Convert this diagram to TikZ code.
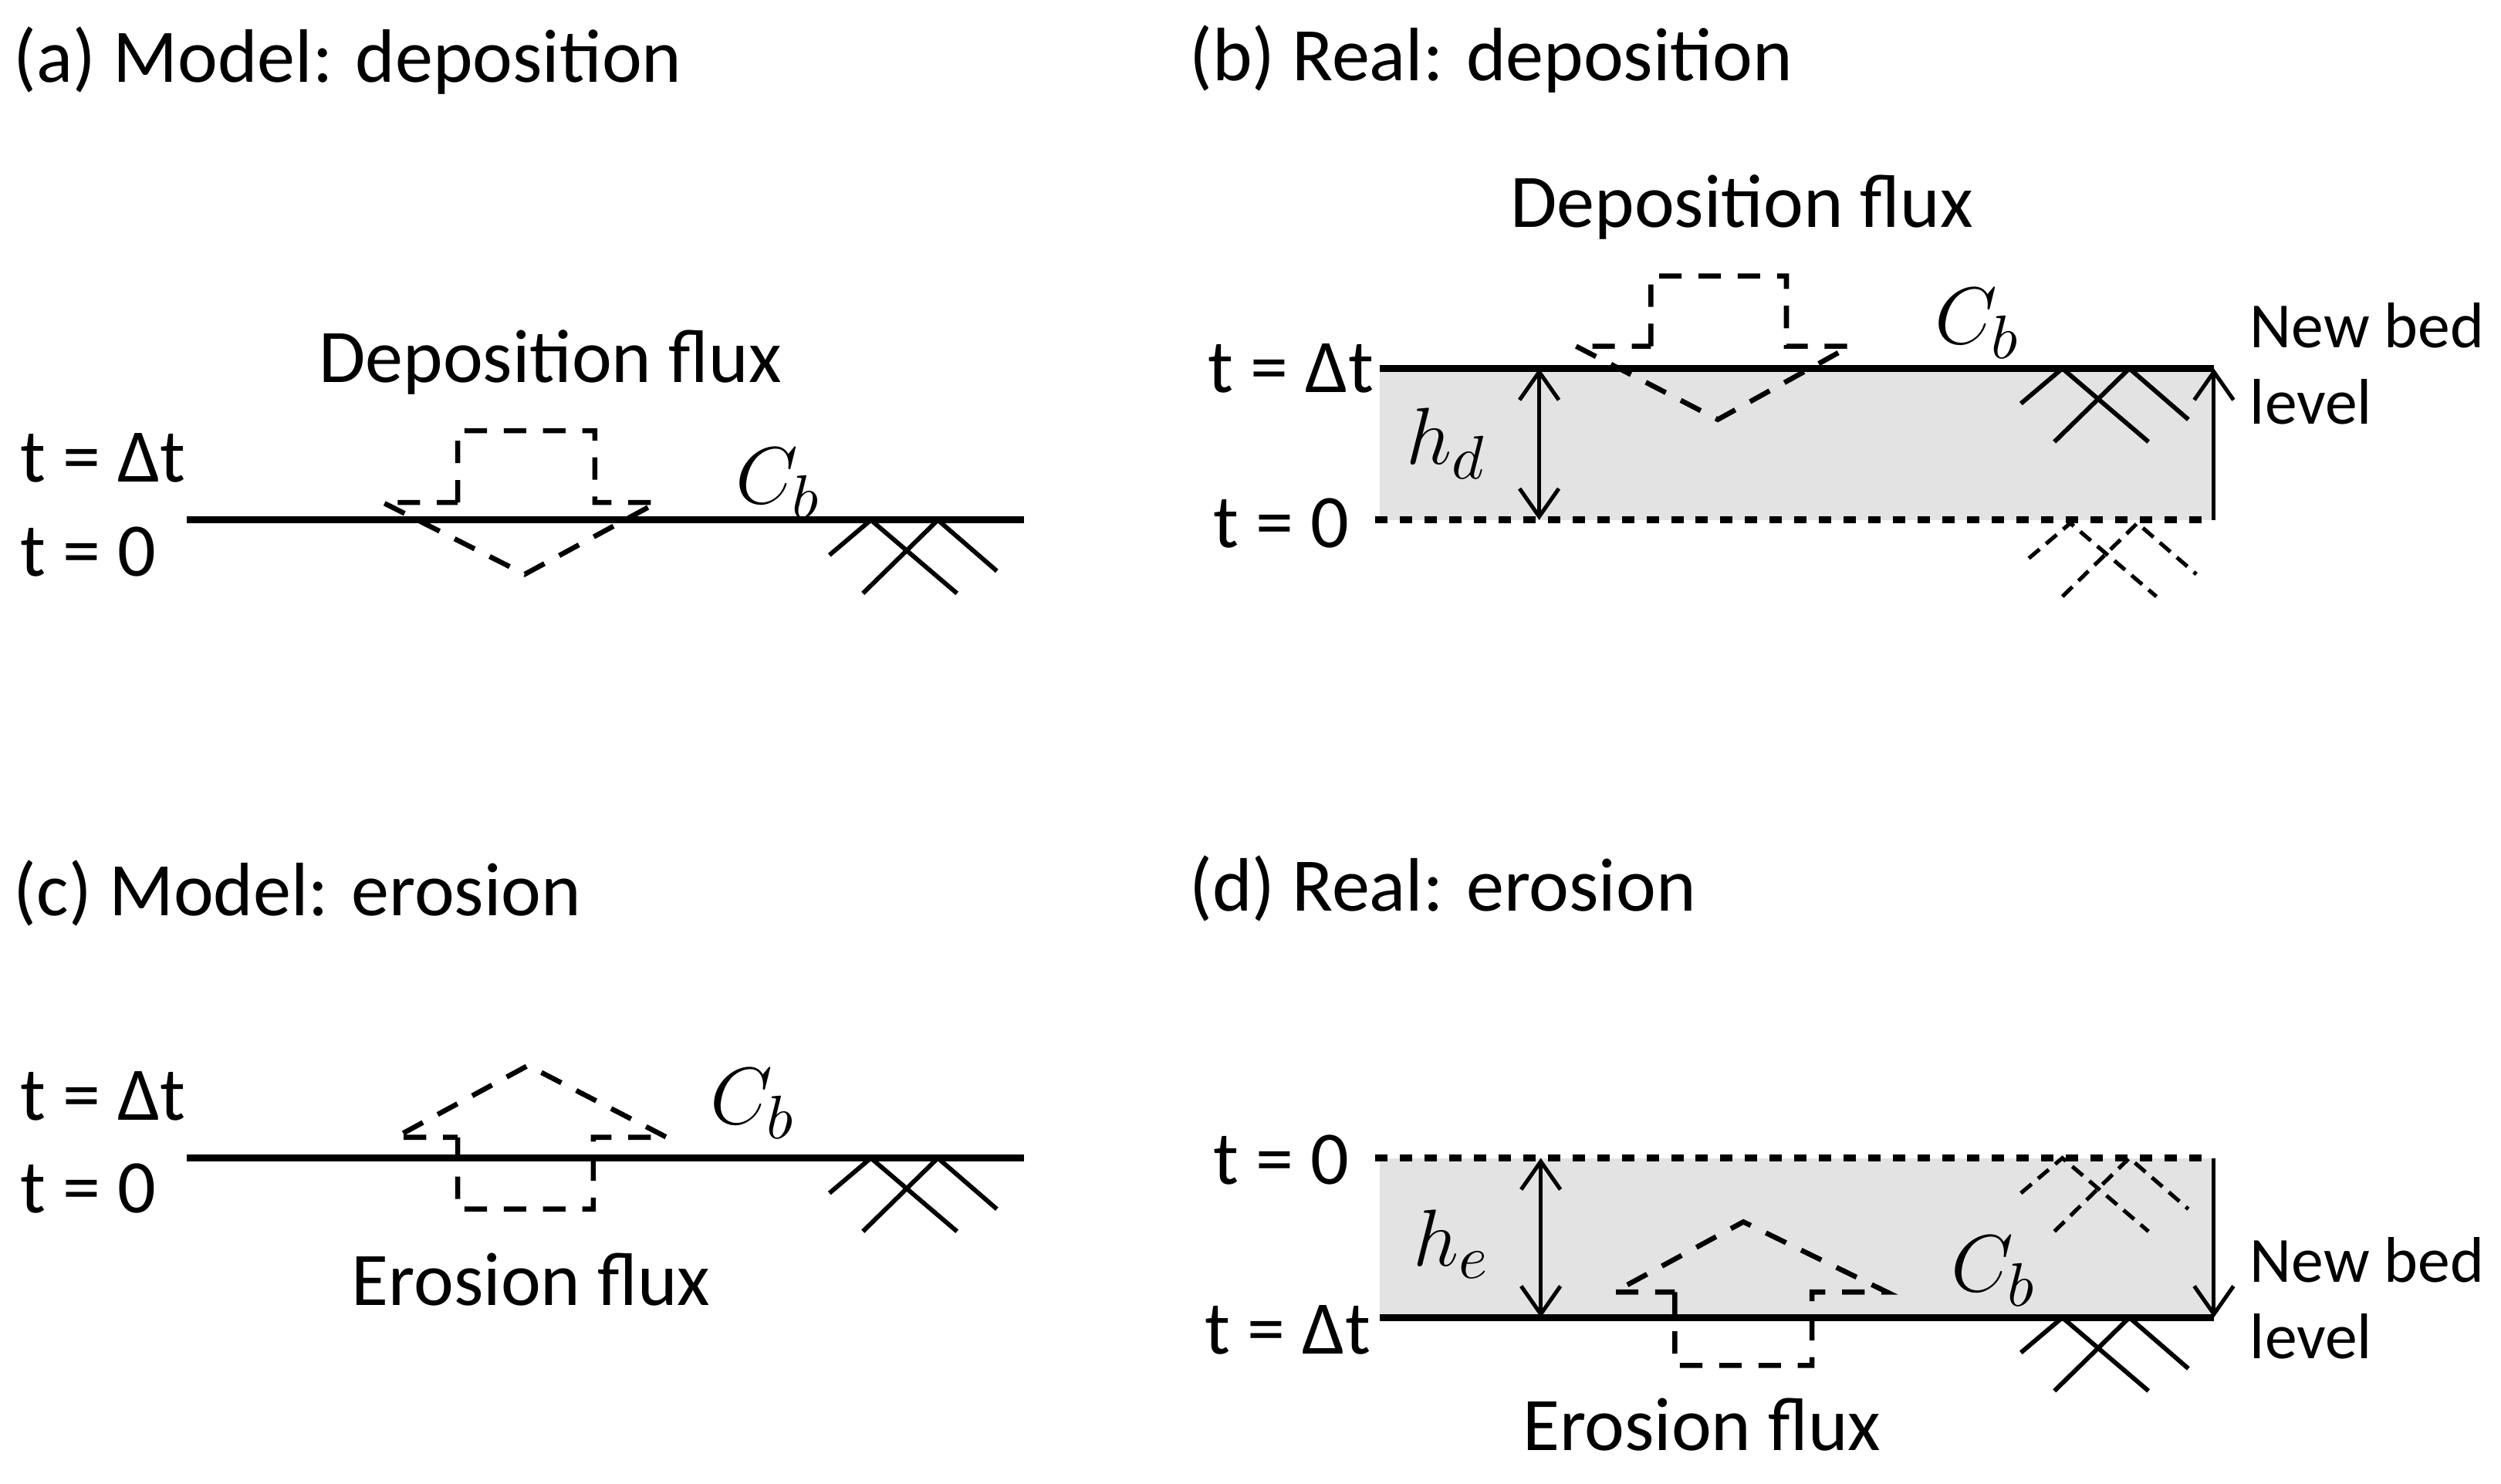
\documentclass[tikz,border=0pt]{standalone}
\usepackage{fontspec}
\setmainfont{Carlito}
\usetikzlibrary{arrows.meta}
\begin{document}
\begin{tikzpicture}[x=0.01cm,y=-0.01cm,
  txt/.style={font=\fontsize{13.5}{15}\selectfont, inner sep=0pt},
  small/.style={font=\fontsize{11.5}{13.6}\selectfont, inner sep=0pt, align=left},
  cb/.style={font=\fontsize{15}{17}\selectfont, inner sep=0pt},
  bed/.style={line width=1.2pt},
  flux/.style={dashed, line width=0.9pt, dash pattern=on 4pt off 3pt},
  va/.style={line width=0.7pt, {Straight Barb[length=5pt,width=7pt]}-{Straight Barb[length=5pt,width=7pt]}},
  sa/.style={line width=0.7pt, -{Straight Barb[length=5pt,width=7pt]}},
  hatch/.pic={\draw (-26,22)--(0,0)--(54,46) (-5,46)--(42,0)--(79,32);}]
\useasboundingbox (0,0) rectangle (1568,930);
% (a)
\node[txt,anchor=west] (ta) at (8,38) {(a) Model: deposition};
\coordinate (a1) at (117,326); \coordinate (a2) at (642,326);
\draw[bed] (a1)--(a2);
\node[txt,anchor=west] (adt) at (12,287) {t = Δt};
\node[txt,anchor=west] (a0) at (12,346) {t = 0};
\node[txt] (afl) at (345,227) {Deposition flux};
\node[cb] (acb) at (488,303) {$C_b$};
\draw[flux] (287,315)--(287,270)--(373,270)--(373,315)--(412,315)--(329,360)--(240,315)--cycle;
\pic[line width=0.8pt] at (546,326) {hatch};
% (c)
\node[txt,anchor=west] (tc) at (8,560) {(c) Model: erosion};
\coordinate (c1) at (117,726); \coordinate (c2) at (642,726);
\draw[bed] (c1)--(c2);
\node[txt,anchor=west] (cdt) at (12,687) {t = Δt};
\node[txt,anchor=west] (c0) at (12,745) {t = 0};
\node[txt] (cfl) at (333,802) {Erosion flux};
\node[cb] (ccb) at (472,692) {$C_b$};
\draw[flux] (287,713)--(287,758)--(372,758)--(372,713)--(418,713)--(331,668)--(248,713)--cycle;
\pic[line width=0.8pt] at (546,726) {hatch};
% (b)
\node[txt,anchor=west] (tb) at (745,37) {(b) Real: deposition};
\fill[gray!22] (865,231) rectangle (1388,326);
\coordinate (b1) at (865,231); \coordinate (b2) at (1388,231);
\coordinate (b3) at (862,326); \coordinate (b4) at (1388,326);
\draw[line width=1.2pt, dash pattern=on 2.2pt off 2.2pt] (b3)--(b4);
\draw[bed] (b1)--(b2);
\coordinate (bh1) at (965,231); \coordinate (bh2) at (965,326);
\draw[va] (bh1)--(bh2);
\node[cb] (bhd) at (907,278) {$h_d$};
\draw[sa] (b4)--(b2);
\node[small,anchor=west] (bnb) at (1410,228) {New bed\\level};
\node[txt,anchor=east] (bdt) at (862,231) {t = Δt};
\node[txt,anchor=west] (b0) at (760,328) {t = 0};
\node[txt] (bfl) at (1092,130) {Deposition flux};
\node[cb] (bcb) at (1240,203) {$C_b$};
\draw[flux] (1035,217)--(1035,173)--(1120,173)--(1120,217)--(1160,217)--(1077,263)--(988,217)--cycle;
\pic[line width=0.8pt] at (1293,231) {hatch};
\pic[line width=0.7pt, dash pattern=on 2.5pt off 1.5pt] at (1298,328) {hatch};
% (d)
\node[txt,anchor=west] (td) at (745,557) {(d) Real: erosion};
\fill[gray!22] (865,726) rectangle (1388,826);
\coordinate (d1) at (862,726); \coordinate (d2) at (1388,726);
\coordinate (d3) at (865,826); \coordinate (d4) at (1388,826);
\draw[line width=1.2pt, dash pattern=on 2.2pt off 2.2pt] (d1)--(d2);
\draw[bed] (d3)--(d4);
\coordinate (dh1) at (966,726); \coordinate (dh2) at (966,826);
\draw[va] (dh1)--(dh2);
\node[cb] (dhe) at (910,780) {$h_e$};
\draw[sa] (d2)--(d4);
\node[small,anchor=west] (dnb) at (1410,814) {New bed\\level};
\node[txt,anchor=west] (d0) at (760,727) {t = 0};
\node[txt,anchor=east] (ddt) at (860,834) {t = Δt};
\node[txt] (dfl) at (1067,893) {Erosion flux};
\node[cb] (dcb) at (1250,797) {$C_b$};
\draw[flux] (1050,810)--(1050,856)--(1136,856)--(1136,810)--(1183,810)--(1093,766)--(1012,810)--cycle;
\pic[line width=0.8pt] at (1293,826) {hatch};
\pic[line width=0.7pt, dash pattern=on 2.5pt off 1.5pt] at (1293,726) {hatch};
\end{tikzpicture}
\end{document}
